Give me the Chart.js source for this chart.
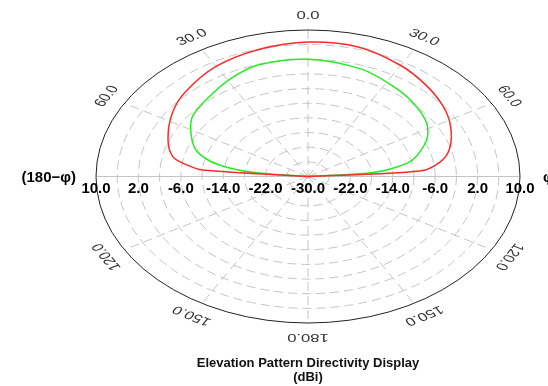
<!DOCTYPE html>
<html>
<head>
<meta charset="utf-8">
<script src="https://cdn.jsdelivr.net/npm/chart.js@4.4.0/dist/chart.umd.min.js"></script>
<style>
  body { margin: 0; background: #fff; }
  #wrap { width: 548px; height: 386px; }
</style>
</head>
<body>
<div id="wrap"><canvas id="myChart" width="548" height="386"></canvas></div>
<script>
// radial range in dBi
const rMin = -30;
const rMax = 10;
const ringStep = 4;
const ringLabels = [10, 2, -6, -14, -22, -30];
const spokeAngles = [30, 60, 120, 150, 210, 240, 300, 330];
const tickAngles = [-150, -120, -60, -30, 0, 30, 60, 120, 150, 180];
const sideLeft = '(180\u2212\u03c6)';
const sideRight = '\u03c6';
const titleLines = ['Elevation Pattern Directivity Display', '(dBi)'];

// pattern data (angle from zenith, gain in dBi)
const redAngles = [-90, -85, -82, -78, -69, -56, -45, -30, -15, 0, 15, 30, 42, 53, 63, 74, 81, 86, 90];
const redGain = [-30, -10, -6.8, -3.9, -1.7, 0.9, 2.7, 4.7, 5.9, 6.7, 6.6, 5.0, 3.4, 1.9, 0.2, -2.2, -4.8, -8.9, -30];
const greenAngles = [-90, -84, -81, -77, -71, -62, -53, -42, -29, -17, 0, 19, 33, 45, 57, 66, 77, 82, 85, 90];
const greenGain = [-30, -20.2, -15, -10.9, -7.6, -5, -2.7, -1.5, 0.4, 1.9, 2.0, 1.0, -0.6, -1.8, -3.3, -5.5, -9.7, -13.8, -18, -30];

const span = rMax - rMin;

function toXY(a, g) {
    const r = Math.max(g - rMin, 0);
    const t = a * Math.PI / 180;
    return { x: r * Math.sin(t), y: r * Math.cos(t) };
}

// dashed polar grid drawn on the scatter scales
const polarGrid = {
    id: 'polarGrid',
    beforeDatasetsDraw(chart) {
        const ctx = chart.ctx;
        const xs = chart.scales.x, ys = chart.scales.y;
        const cx = xs.getPixelForValue(0), cy = ys.getPixelForValue(0);
        ctx.save();
        ctx.lineWidth = 1;
        ctx.strokeStyle = '#c4c4c4';
        ctx.setLineDash([9, 5]);
        for (let r = ringStep; r < span; r += ringStep) {
            ctx.beginPath();
            ctx.ellipse(cx, cy, xs.getPixelForValue(r) - cx, cy - ys.getPixelForValue(r), 0, 0, Math.PI * 2);
            ctx.stroke();
        }
        spokeAngles.forEach((a) => {
            const p = toXY(a, rMax);
            ctx.beginPath();
            ctx.moveTo(cx, cy);
            ctx.lineTo(xs.getPixelForValue(p.x), ys.getPixelForValue(p.y));
            ctx.stroke();
        });
        // vertical axis
        ctx.beginPath();
        ctx.moveTo(cx, ys.getPixelForValue(span));
        ctx.lineTo(cx, ys.getPixelForValue(-span));
        ctx.stroke();
        // horizontal axis
        ctx.setLineDash([]);
        ctx.beginPath();
        ctx.moveTo(xs.getPixelForValue(-span), cy);
        ctx.lineTo(xs.getPixelForValue(span), cy);
        ctx.stroke();
        // outer ring
        ctx.strokeStyle = '#222';
        ctx.beginPath();
        ctx.ellipse(cx, cy, xs.getPixelForValue(span) - cx, cy - ys.getPixelForValue(span), 0, 0, Math.PI * 2);
        ctx.stroke();
        ctx.restore();
    },
    afterDatasetsDraw(chart) {
        const ctx = chart.ctx;
        const xs = chart.scales.x, ys = chart.scales.y;
        const cx = xs.getPixelForValue(0), cy = ys.getPixelForValue(0);
        const rx = xs.getPixelForValue(span) - cx;
        const ry = cy - ys.getPixelForValue(span);
        ctx.save();
        // ring values along the horizontal axis
        ctx.fillStyle = '#000';
        ctx.font = 'bold 15px "Liberation Sans", Arial, sans-serif';
        ctx.textAlign = 'center';
        ctx.textBaseline = 'alphabetic';
        ringLabels.forEach((v) => {
            const r = v - rMin;
            ctx.fillText(v.toFixed(1), xs.getPixelForValue(-r), cy + 16);
            if (r > 0) ctx.fillText(v.toFixed(1), xs.getPixelForValue(r), cy + 16);
        });
        // side labels
        ctx.textBaseline = 'middle';
        ctx.textAlign = 'right';
        ctx.fillText(sideLeft, cx - rx - 20, cy + 1);
        ctx.textAlign = 'left';
        ctx.fillText(sideRight, cx + rx + 23, cy + 1);
        // angle labels, stretched like the plot
        ctx.fillStyle = '#333';
        ctx.font = '11.5px "Liberation Sans", Arial, sans-serif';
        ctx.textAlign = 'center';
        tickAngles.forEach((a) => {
            ctx.save();
            ctx.translate(cx, cy);
            ctx.scale(rx / ry, 1);
            ctx.rotate(a * Math.PI / 180);
            ctx.fillText(Math.abs(a).toFixed(1), 0, -(ry + 14));
            ctx.restore();
        });
        // title
        ctx.fillStyle = '#111';
        ctx.font = 'bold 13px "Liberation Sans", Arial, sans-serif';
        ctx.textBaseline = 'alphabetic';
        ctx.fillText(titleLines[0], cx, 367);
        ctx.fillText(titleLines[1], cx, 381);
        ctx.restore();
    }
};

const chartArea = document.getElementById('myChart').getContext('2d');
const myChart = new Chart(chartArea, {
    type: 'scatter',
    data: {
        datasets: [{
            label: 'red',
            data: redAngles.map((a, i) => toXY(a, redGain[i])),
            showLine: true,
            borderColor: '#ff2a2a',
            borderWidth: 1.5,
            pointRadius: 0,
            tension: 0.3
        }, {
            label: 'green',
            data: greenAngles.map((a, i) => toXY(a, greenGain[i])),
            showLine: true,
            borderColor: '#22ee22',
            borderWidth: 1.5,
            pointRadius: 0,
            tension: 0.3
        }]
    },
    options: {
        responsive: false,
        animation: false,
        layout: {
            padding: { left: 96, right: 28, top: 30, bottom: 63 }
        },
        plugins: {
            legend: { display: false },
            tooltip: { enabled: false }
        },
        scales: {
            x: { type: 'linear', min: -span, max: span, display: false },
            y: { type: 'linear', min: -span, max: span, display: false }
        }
    },
    plugins: [polarGrid]
});
</script>
</body>
</html>
